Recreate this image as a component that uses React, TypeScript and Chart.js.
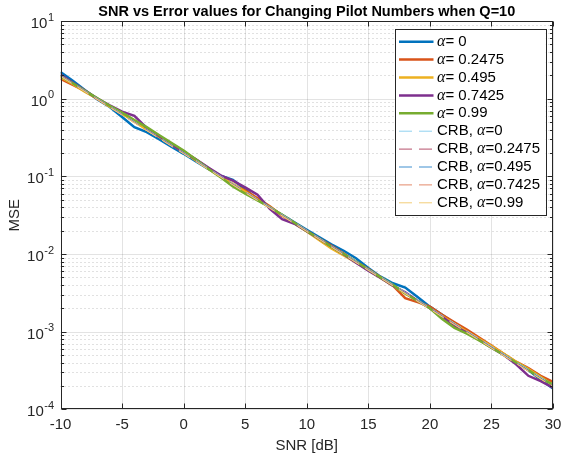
import { useEffect, useRef } from 'react';
import { Chart, registerables } from 'chart.js';

Chart.register(...registerables);

const snr = [-10, -9, -8, -7, -6, -5, -4, -3, -2, -1, 0, 1, 2, 3, 4, 5, 6, 7, 8, 9, 10, 11, 12, 13, 14, 15, 16, 17, 18, 19, 20, 21, 22, 23, 24, 25, 26, 27, 28, 29, 30];

const mseA0 = [2.2, 1.7, 1.28, 0.98, 0.78, 0.58, 0.43, 0.37, 0.3, 0.24, 0.195, 0.155, 0.125, 0.102, 0.09, 0.068, 0.05, 0.04, 0.032, 0.0255, 0.0205, 0.0165, 0.0133, 0.011, 0.0088, 0.0066, 0.0051, 0.0042, 0.0037, 0.0028, 0.0021, 0.00165, 0.00128, 0.00102, 0.0008, 0.00064, 0.00051, 0.0004, 0.00032, 0.00024, 0.000185];
const mseA1 = [1.8, 1.5, 1.25, 0.99, 0.8, 0.65, 0.52, 0.41, 0.33, 0.265, 0.21, 0.165, 0.128, 0.1, 0.078, 0.066, 0.052, 0.041, 0.031, 0.025, 0.0198, 0.0158, 0.0127, 0.0101, 0.0079, 0.0064, 0.005, 0.0039, 0.0027, 0.0024, 0.0021, 0.00165, 0.00132, 0.00106, 0.00084, 0.00066, 0.00052, 0.00041, 0.00034, 0.00027, 0.000225];
const mseA2 = [1.9, 1.55, 1.22, 1.0, 0.79, 0.64, 0.51, 0.4, 0.325, 0.26, 0.205, 0.16, 0.125, 0.098, 0.08, 0.063, 0.05, 0.04, 0.0318, 0.0248, 0.0195, 0.0152, 0.0118, 0.0096, 0.0078, 0.0062, 0.0049, 0.0039, 0.0031, 0.0025, 0.002, 0.00158, 0.00125, 0.001, 0.00081, 0.00065, 0.00052, 0.00041, 0.00033, 0.00026, 0.000205];
const mseA3 = [2.05, 1.6, 1.27, 1.0, 0.82, 0.68, 0.6, 0.42, 0.33, 0.26, 0.205, 0.165, 0.13, 0.103, 0.088, 0.072, 0.058, 0.038, 0.028, 0.0245, 0.0197, 0.0157, 0.0125, 0.0099, 0.0077, 0.0061, 0.0049, 0.0039, 0.0032, 0.0025, 0.002, 0.00155, 0.00118, 0.00097, 0.00078, 0.00062, 0.0005, 0.00038, 0.00027, 0.00023, 0.00019];
const mseA4 = [1.95, 1.58, 1.26, 1.01, 0.81, 0.66, 0.53, 0.43, 0.34, 0.27, 0.215, 0.165, 0.125, 0.097, 0.074, 0.06, 0.049, 0.04, 0.032, 0.0252, 0.0198, 0.0158, 0.0124, 0.01, 0.008, 0.0063, 0.005, 0.004, 0.0031, 0.0025, 0.002, 0.00145, 0.00112, 0.00094, 0.00077, 0.00062, 0.0005, 0.0004, 0.00032, 0.00025, 0.00021];

const crbSnr = [-10, -5, 0, 5, 10, 15, 20, 25, 30];
const crbA0 = [2.0, 0.635, 0.202, 0.064, 0.0203, 0.0064, 0.00203, 0.000645, 0.000205];
const crbA1 = [1.98, 0.628, 0.199, 0.063, 0.02, 0.0063, 0.002, 0.000632, 0.0002];
const crbA2 = [1.96, 0.622, 0.197, 0.0625, 0.0198, 0.00625, 0.00198, 0.000627, 0.000198];
const crbA3 = [1.95, 0.618, 0.196, 0.062, 0.0196, 0.0062, 0.00196, 0.00062, 0.000196];
const crbA4 = [1.94, 0.614, 0.195, 0.0615, 0.0195, 0.00615, 0.00195, 0.000615, 0.000195];

const alphaValues = ['0', '0.2475', '0.495', '0.7425', '0.99'];
const mseSeries = [mseA0, mseA1, mseA2, mseA3, mseA4];
const crbSeries = [crbA0, crbA1, crbA2, crbA3, crbA4];
const mseColors = ['#0072BD', '#D95319', '#EDB120', '#7E2F8E', '#77AC30'];
const crbColors = ['#8ED1F0', '#B5506A', '#3F8FCF', '#E4896A', '#F2CD78'];

const xTicks = [-10, -5, 0, 5, 10, 15, 20, 25, 30];
const yDecades = [-4, -3, -2, -1, 0, 1];

const titleText = 'SNR vs Error values for Changing Pilot Numbers when Q=10';
const xLabel = 'SNR [dB]';
const yLabel = 'MSE';

const FONT = '"Liberation Sans", Arial, Helvetica, sans-serif';
const AX = '#262626';

const matlabPlugin = {
  id: 'matlabLook',
  beforeDatasetsDraw(chart: any) {
    const { ctx, chartArea: a, scales } = chart;
    const x = scales.x;
    const y = scales.y;
    ctx.save();
    ctx.lineWidth = 1;
    ctx.setLineDash([1, 3]);
    ctx.strokeStyle = 'rgba(38,38,38,0.28)';
    for (let i = 0; i < yDecades.length - 1; i++) {
      for (let m = 2; m <= 9; m++) {
        const v = m * Math.pow(10, yDecades[i]);
        const py = Math.round(y.getPixelForValue(v)) + 0.5;
        ctx.beginPath();
        ctx.moveTo(a.left, py);
        ctx.lineTo(a.right, py);
        ctx.stroke();
      }
    }
    ctx.setLineDash([]);
    ctx.strokeStyle = 'rgba(38,38,38,0.13)';
    for (const d of yDecades) {
      const py = Math.round(y.getPixelForValue(Math.pow(10, d))) + 0.5;
      ctx.beginPath();
      ctx.moveTo(a.left, py);
      ctx.lineTo(a.right, py);
      ctx.stroke();
    }
    for (const t of xTicks) {
      const px = Math.round(x.getPixelForValue(t)) + 0.5;
      ctx.beginPath();
      ctx.moveTo(px, a.top);
      ctx.lineTo(px, a.bottom);
      ctx.stroke();
    }
    ctx.restore();
  },
  afterDraw(chart: any) {
    const { ctx, chartArea: a, scales } = chart;
    const x = scales.x;
    const y = scales.y;
    ctx.save();
    ctx.strokeStyle = AX;
    ctx.lineWidth = 1;
    ctx.setLineDash([]);
    const L = Math.round(a.left) + 0.5;
    const R = Math.round(a.right) - 0.5;
    const T = Math.round(a.top) + 0.5;
    const B = Math.round(a.bottom) - 0.5;
    ctx.strokeRect(L, T, R - L, B - T);
    ctx.beginPath();
    for (const t of xTicks) {
      const px = Math.round(x.getPixelForValue(t)) + 0.5;
      ctx.moveTo(px, B); ctx.lineTo(px, B - 5);
      ctx.moveTo(px, T); ctx.lineTo(px, T + 5);
    }
    for (let i = 0; i < yDecades.length; i++) {
      const py = Math.round(y.getPixelForValue(Math.pow(10, yDecades[i]))) + 0.5;
      ctx.moveTo(L, py); ctx.lineTo(L + 5, py);
      ctx.moveTo(R, py); ctx.lineTo(R - 5, py);
      if (i < yDecades.length - 1) {
        for (let m = 2; m <= 9; m++) {
          const pm = Math.round(y.getPixelForValue(m * Math.pow(10, yDecades[i]))) + 0.5;
          ctx.moveTo(L, pm); ctx.lineTo(L + 2.5, pm);
          ctx.moveTo(R, pm); ctx.lineTo(R - 2.5, pm);
        }
      }
    }
    ctx.stroke();
    ctx.fillStyle = AX;
    ctx.textBaseline = 'middle';
    ctx.textAlign = 'right';
    for (const d of yDecades) {
      const py = y.getPixelForValue(Math.pow(10, d));
      const exp = String(d);
      ctx.font = `11px ${FONT}`;
      const ew = ctx.measureText(exp).width;
      const xr = a.left - 6.5;
      ctx.fillText(exp, xr, py - 3.5);
      ctx.font = `15px ${FONT}`;
      ctx.fillText('10', xr - ew - 0.5, py + 3);
    }
    ctx.fillStyle = '#000000';
    ctx.font = `bold 14.5px ${FONT}`;
    ctx.textAlign = 'center';
    ctx.textBaseline = 'alphabetic';
    ctx.fillText(titleText, (a.left + a.right) / 2, 16);
    const bw = 150.7;
    const bh = 185.7;
    const bx = a.right - 7.3 - bw;
    const by = a.top + 8.3;
    ctx.fillStyle = '#ffffff';
    ctx.fillRect(bx, by, bw, bh);
    ctx.strokeStyle = AX;
    ctx.lineWidth = 1;
    ctx.strokeRect(Math.round(bx) + 0.5, Math.round(by) + 0.5, Math.round(bw), Math.round(bh));
    const rowStep = 17.9;
    const row0 = by + 12.4;
    const drawLabel = (prefix: string, rest: string, tx: number, ty: number) => {
      ctx.fillStyle = '#000000';
      ctx.textAlign = 'left';
      ctx.textBaseline = 'middle';
      let cx = tx;
      if (prefix) {
        ctx.font = `15px ${FONT}`;
        ctx.fillText(prefix, cx, ty);
        cx += ctx.measureText(prefix).width;
      }
      ctx.font = `italic 16px "Liberation Serif", "Times New Roman", serif`;
      ctx.fillText('α', cx, ty);
      cx += ctx.measureText('α').width;
      ctx.font = `15px ${FONT}`;
      ctx.fillText(rest, cx, ty);
    };
    for (let i = 0; i < 10; i++) {
      const ry = row0 + i * rowStep;
      const isCrb = i >= 5;
      const k = i % 5;
      ctx.beginPath();
      if (isCrb) {
        ctx.setLineDash([13, 7]);
        ctx.lineWidth = 1;
        ctx.strokeStyle = crbColors[k];
      } else {
        ctx.setLineDash([]);
        ctx.lineWidth = 2.5;
        ctx.strokeStyle = mseColors[k];
      }
      ctx.moveTo(bx + 4, ry);
      ctx.lineTo(bx + 38.5, ry);
      ctx.stroke();
      ctx.setLineDash([]);
      if (isCrb) drawLabel('CRB, ', '=' + alphaValues[k], bx + 42, ry);
      else drawLabel('', '= ' + alphaValues[k], bx + 42, ry);
    }
    ctx.restore();
  },
};

export default function App() {
  const ref = useRef<HTMLCanvasElement | null>(null);
  useEffect(() => {
    if (!ref.current) return;
    const datasets: any[] = [];
    mseSeries.forEach((s, i) => {
      datasets.push({
        label: 'α= ' + alphaValues[i],
        data: snr.map((v, j) => ({ x: v, y: s[j] })),
        borderColor: mseColors[i],
        backgroundColor: mseColors[i],
        borderWidth: 2.5,
        pointRadius: 0,
        tension: 0,
        order: 20 - i,
      });
    });
    crbSeries.forEach((s, i) => {
      datasets.push({
        label: 'CRB, α=' + alphaValues[i],
        data: crbSnr.map((v, j) => ({ x: v, y: s[j] })),
        borderColor: crbColors[i],
        backgroundColor: crbColors[i],
        borderWidth: 1,
        borderDash: [13, 7],
        pointRadius: 0,
        tension: 0,
        order: 10 - i,
      });
    });
    const chart = new Chart(ref.current, {
      type: 'line',
      data: { datasets },
      plugins: [matlabPlugin],
      options: {
        responsive: false,
        animation: false,
        devicePixelRatio: 1,
        layout: { padding: { top: 21, right: 8, left: 0, bottom: 0 } },
        plugins: {
          legend: { display: false },
          tooltip: { enabled: false },
          title: { display: false },
        },
        scales: {
          x: {
            type: 'linear',
            min: -10,
            max: 30,
            grid: { display: false, drawTicks: false },
            border: { display: false },
            ticks: {
              stepSize: 5,
              padding: 7,
              color: AX,
              font: { family: FONT, size: 15 },
              maxRotation: 0,
            },
            title: {
              display: true,
              text: xLabel,
              color: AX,
              font: { family: FONT, size: 15 },
              padding: { top: 0, bottom: 0 },
            },
            afterFit: (scale: any) => {
              scale.height = 45.7;
              scale.paddingLeft = 0;
              scale.paddingRight = 0;
            },
          },
          y: {
            type: 'logarithmic',
            min: 1e-4,
            max: 10,
            grid: { display: false, drawTicks: false },
            border: { display: false },
            ticks: { display: false },
            title: {
              display: true,
              text: yLabel,
              color: AX,
              font: { family: FONT, size: 15 },
              padding: { top: 6, bottom: 0 },
            },
            afterFit: (scale: any) => {
              scale.width = 60.5;
              scale.paddingTop = 0;
              scale.paddingBottom = 0;
            },
          },
        },
      } as any,
    });
    return () => chart.destroy();
  }, []);
  return (
    <div style={{ position: 'absolute', left: 0, top: 0, width: 561, height: 455, background: '#fff' }}>
      <canvas ref={ref} width={561} height={455} style={{ display: 'block' }} />
    </div>
  );
}
